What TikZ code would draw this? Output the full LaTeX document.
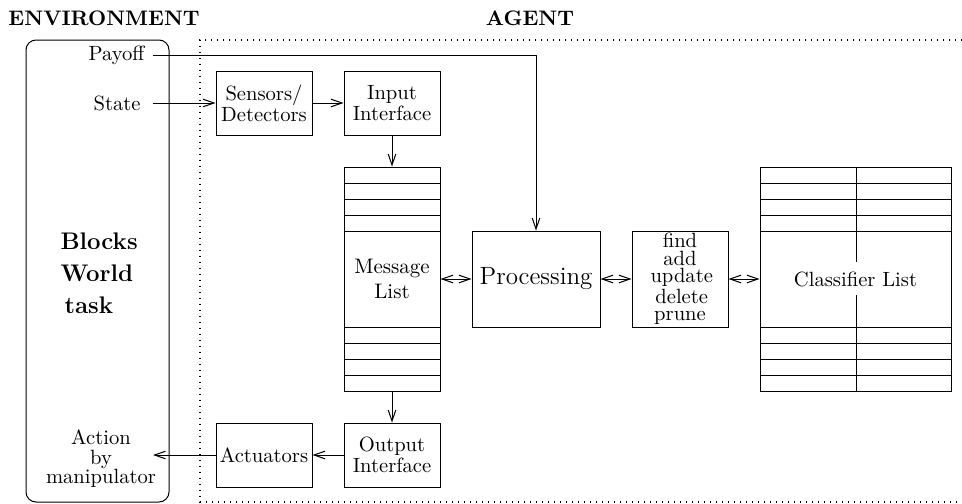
\documentclass[tikz,border=0pt]{standalone}
\usetikzlibrary{arrows.meta}
\begin{document}
\begin{tikzpicture}[x=0.5pt,y=-0.5pt,
  line width=0.5pt,
  >={Straight Barb[length=5.5pt,width=3.8pt]},
  box/.style={draw,minimum width=48pt,minimum height=32pt,inner sep=0pt,align=center,font=\fontsize{10.3}{10.5}\selectfont},
  lbl/.style={inner sep=0pt,font=\fontsize{10.3}{12}\selectfont},
  title/.style={inner sep=0pt,font=\fontsize{10.5}{12}\selectfont\bfseries}]
\useasboundingbox (0,0) rectangle (962,503);
% titles
\node[title,anchor=west] (envt) at (8,18) {ENVIRONMENT};
\node[title] (agt) at (530,18) {AGENT};
% environment box
\node[draw,rounded corners=5pt,minimum width=71.5pt,minimum height=231pt,inner sep=0pt] (env) at (97.5,271) {};
\node[inner sep=0pt,anchor=west,align=left,font=\fontsize{12}{16}\selectfont\bfseries] (bw) at (60,273) {Blocks\\World\\\,task};
% agent frame
\draw[line width=0.6pt,dash pattern=on 0.7pt off 2.3pt] (962,40) -- (200,40) -- (200,502) -- (962,502);
% labels
\node[lbl,anchor=east,inner xsep=4pt] (pay) at (153,55) {Payoff};
\node[lbl,anchor=east,inner xsep=6pt] (state) at (153,103) {State};
\node[lbl,align=center,font=\fontsize{10.3}{9.8}\selectfont] (act) at (101,459) {Action\\by\\manipulator};
\coordinate (actend) at (153,455);
% boxes
\node[box] (sens) at (264,103) {Sensors/\\Detectors};
\node[box] (inp) at (392,103) {Input\\Interface};
\node[box] (outp) at (392,455) {Output\\Interface};
\node[box] (actu) at (264,455) {Actuators};
\node[draw,minimum width=48pt,minimum height=112pt,inner sep=0pt,align=center,font=\fontsize{10.5}{12.5}\selectfont] (msg) at (392,279) {Message\\List};
\node[draw,minimum width=64pt,minimum height=48pt,inner sep=0pt,font=\fontsize{12.5}{14}\selectfont] (proc) at (536,279) {Processing};
\node[draw,minimum width=48pt,minimum height=48pt,inner sep=0pt,align=center,font=\fontsize{10.3}{8.8}\selectfont] (ops) at (680,279) {find\\add\\\,update\\\,delete\\prune};
\node[draw,minimum width=95.5pt,minimum height=112pt,inner sep=0pt,font=\fontsize{10.3}{12}\selectfont] (cls) at (855.5,279) {Classifier List};
% table rows
\foreach \y in {183,199,215,231,327,343,359,375}{
  \draw (344,\y) -- (440,\y);
  \draw (760,\y) -- (951,\y);
}
\draw (856,167) -- (856,262);
\draw (856,295) -- (856,391);
% connectors
\draw[->] (pay.east) -| (proc.north);
\draw[->] (state.east) -- (sens.west);
\draw[->] (sens.east) -- (inp.west);
\draw[->] (inp.south) -- (msg.north);
\draw[->] (msg.south) -- (outp.north);
\draw[->] (outp.west) -- (actu.east);
\draw[->] (actu.west) -- (actend);
\draw[<->] (msg.east) -- (proc.west);
\draw[<->] (proc.east) -- (ops.west);
\draw[<->] (ops.east) -- (cls.west);
\end{tikzpicture}
\end{document}
